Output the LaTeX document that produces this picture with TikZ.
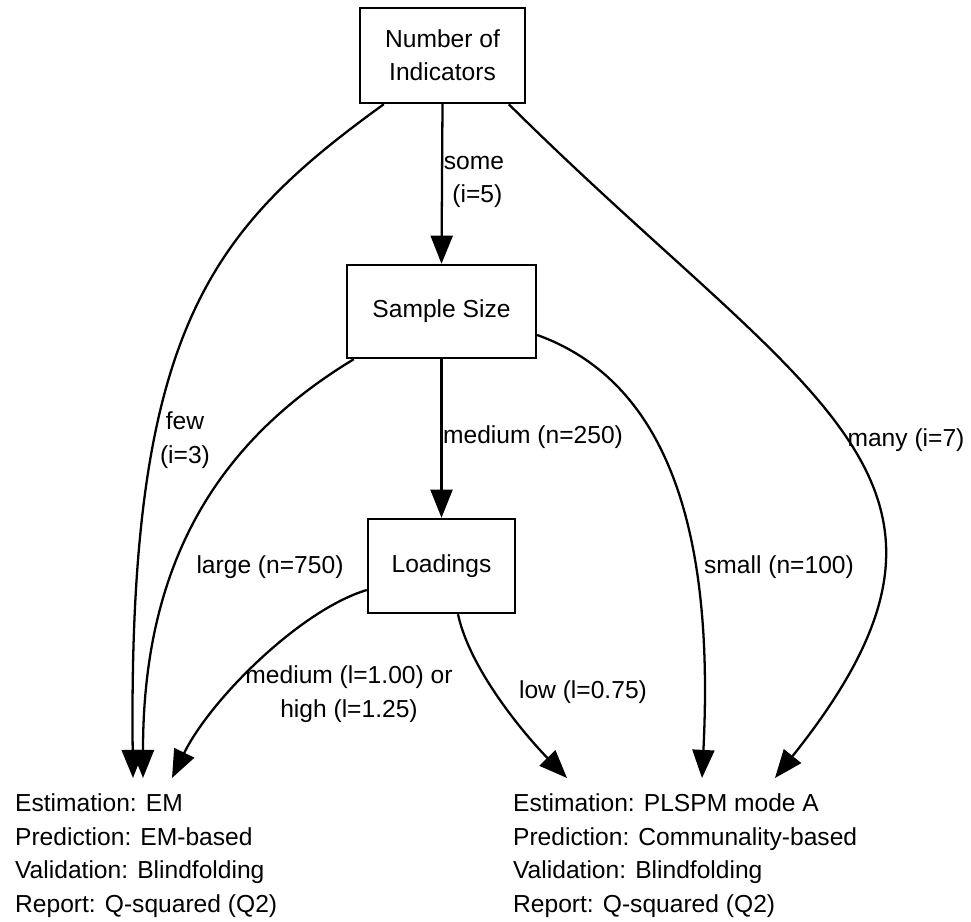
\documentclass[tikz,border=0pt]{standalone}
\usepackage{fontspec}
\setmainfont{Liberation Sans}
\usepackage{tikz}
\usetikzlibrary{arrows.meta, positioning, calc}

\begin{document}
\begin{tikzpicture}[x=0.02cm, y=-0.02cm, line width=1.3pt, >={Triangle[length=16pt, width=12.5pt]},
		every node/.style={font=\fontsize{14}{19}\selectfont},
		box/.style={draw, line width=1.4pt, align=center, inner sep=0pt},
		outcome/.style={align=left, inner xsep=0pt, inner ysep=8.5pt, anchor=north west},
		lbl/.style={align=center, inner sep=0pt}]
	\useasboundingbox (0,0) rectangle (971,921);

	% decision boxes
	\node[box, minimum width=3.3cm, minimum height=1.9cm] (ni) at (442.5,55.5) {Number of\\Indicators};
	\node[box, minimum width=3.78cm, minimum height=1.86cm] (ss) at (441.5,311.5) {Sample Size};
	\node[box, minimum width=2.94cm, minimum height=1.88cm] (ld) at (441.5,566) {Loadings};

	% outcomes
	\node[outcome] (em) at (14,778) {Estimation: EM\\Prediction: EM-based\\Validation: Blindfolding\\Report: Q-squared (Q2)};
	\node[outcome] (pl) at (512,778) {Estimation: PLSPM mode A\\Prediction: Communality-based\\Validation: Blindfolding\\Report: Q-squared (Q2)};

	% edges
	\draw[->] ($(ni.south west)+(25,0)$) .. controls (210,230) and (128,330) .. ($(em.north west)+(119,0)$);
	\draw[->] (ni.south) -- (ss.north);
	\draw[->] ($(ni.south west)+(150,0)$) .. controls (810,403) and (1015,478) .. ($(pl.north west)+(263,0)$);
	\draw[->] ($(ss.south west)+(8,0)$) .. controls (220,440) and (143,560) .. ($(em.north west)+(129,0)$);
	\draw[->] (ss.south) -- (ld.north);
	\draw[->] ($(ss.east)+(0,23.5)$) .. controls (690,390) and (712,580) .. ($(pl.north west)+(190,0)$);
	\draw[->] ($(ld.west)+(0,24)$) .. controls (300,610) and (210,700) .. ($(em.north west)+(158,0)$);
	\draw[->] ($(ld.south)+(16.5,0)$) .. controls (470,670) and (525,735) .. ($(pl.north west)+(55,0)$);

	% edge labels
	\node[lbl] (lfew) at (185,440) {few\\(i=3)};
	\node[lbl] (lsome) at (474,182) {some\\\ (i=5)};
	\node[lbl] (lmany) at (906,440) {many (i=7)};
	\node[lbl] (llarge) at (270,567) {large (n=750)};
	\node[lbl, anchor=west] (lmed) at (442,437) {medium (n=250)};
	\node[lbl] (lsmall) at (779,567) {small (n=100)};
	\node[lbl] (lhigh) at (349,694) {medium (l=1.00) or\\high (l=1.25)};
	\node[lbl] (llow) at (583,692) {low (l=0.75)};
\end{tikzpicture}
\end{document}
